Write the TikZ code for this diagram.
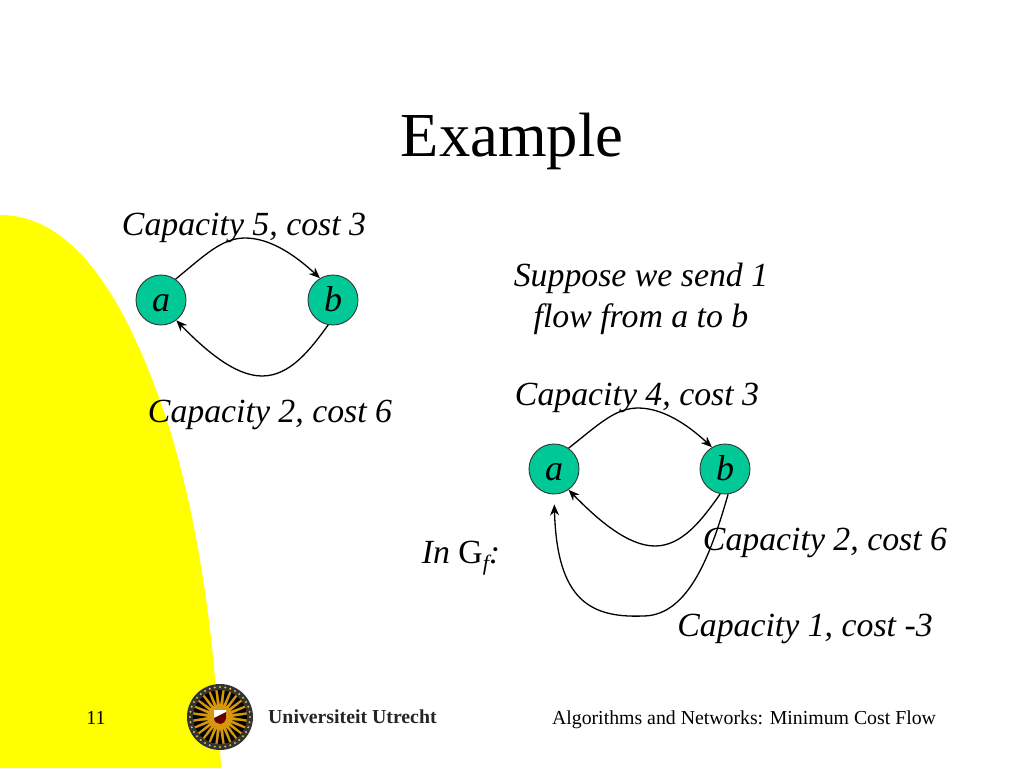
\documentclass[tikz,border=0pt]{standalone}
\usepackage{fontspec}
\setmainfont{Liberation Serif}
\usetikzlibrary{calc,arrows.meta}
\definecolor{flowgreen}{RGB}{0,200,150}
\definecolor{sealgold}{RGB}{214,152,10}
\definecolor{slideyellow}{RGB}{255,255,0}
\tikzset{
  vertex/.style={circle, draw=black!80, fill=flowgreen, line width=0.9pt, minimum size=50pt, inner sep=0pt,
    text height=23pt, text depth=0pt, font=\fontsize{36}{38}\selectfont\itshape},
  flowedge/.style={-{Stealth[length=11pt, width=9pt]}, line width=1.3pt},
  lbl/.style={anchor=base, inner sep=0pt, font=\fontsize{33.8}{36}\selectfont\itshape},
  footer/.style={anchor=base, inner sep=0pt, font=\fontsize{19.8}{24}\selectfont},
}
\begin{document}
\begin{tikzpicture}[x=1pt, y=-1pt]
  \useasboundingbox (0,0) rectangle (1024,768);

  % ---- yellow corner shape ----
  \fill[slideyellow] (0,215) .. controls (70,215) and (125,290) .. (170,430)
    .. controls (200,530) and (215,640) .. (221,768) -- (0,768) -- cycle;

  % ---- title ----
  \node[anchor=base, inner sep=0pt, font=\fontsize{62.6}{70}\selectfont] (title) at (512,156) {Example};

  % ---- first graph ----
  \node[vertex] (a1) at (161,300) {a};
  \node[vertex] (b1) at (333,300) {b};
  \draw[flowedge] (a1.55) .. controls (205,255) and (222,238) .. (245,238)
    .. controls (270,238) and (295,255) .. (b1.121);
  \draw[flowedge] (b1.259) .. controls (310,350) and (290,376) .. (262,376)
    .. controls (235,376) and (205,350) .. (a1.-53);
  \node[lbl] (cap5) at (244,235) {Capacity 5, cost 3};
  \node[lbl] (cap2) at (270,422) {Capacity 2, cost 6};

  % ---- text on the right ----
  \node[lbl] (send1) at (641,286) {Suppose we send 1};
  \node[lbl] (send2) at (641,327) {flow from a to b};

  % ---- residual graph ----
  \node[vertex] (a2) at (554,469) {a};
  \node[vertex] (b2) at (725,469) {b};
  \draw[flowedge] (a2.55) .. controls (598,425) and (615,408) .. (638,408)
    .. controls (663,408) and (688,425) .. (b2.121);
  \draw[flowedge] (b2.259) .. controls (702,520) and (682,546) .. (655,546)
    .. controls (628,546) and (598,520) .. (a2.-55);
  \draw[flowedge, shorten >=10pt] (b2.-83) .. controls (712,550) and (690,616) .. (643,616)
    .. controls (590,618) and (557,600) .. (a2.south);
  \node[lbl] (cap4) at (637,405) {Capacity 4, cost 3};
  \node[lbl] (cap2f) at (825,550) {Capacity 2, cost 6};
  \node[lbl] (cap1) at (805,636) {Capacity 1, cost -3};
  \node[lbl] (gf) at (461,563) {In \textup{G}\raisebox{-0.22em}{\fontsize{22}{24}\selectfont f}:};

  % ---- footer with seal ----
  \node[footer] (pageno) at (96,724) {11};
  \node[footer] (course) at (744,724) {Algorithms and Networks: Minimum Cost Flow};
  \node[circle, fill=black!80, minimum size=66pt, inner sep=0pt] (seal) at (220,717) {};
  \fill[sealgold] (seal) circle (27);
  \foreach \ang in {0,15,...,345} {
    \fill[black] ($(seal)+(\ang-5:27)$) -- ($(seal)+(\ang:12)$) -- ($(seal)+(\ang+5:27)$) -- cycle;
  }
  \foreach \ang in {0,10,...,350} {
    \fill[sealgold!70] ($(seal)+(\ang:30)$) circle (1.1);
  }
  \fill[sealgold] (seal) circle (13);
  % shield in the middle of the seal
  \fill[white] (214,710) -- (226,710) -- (226,718) .. controls (226,722) and (222,724) .. (220,724)
    .. controls (217,724) and (214,722) .. (214,718) -- cycle;
  \fill[black!60!red] (226,712) -- (226,718) .. controls (226,722) and (222,724) .. (220,724)
    .. controls (217,724) and (214,722) .. (214,718) -- cycle;
  \node[anchor=base west, inner sep=0pt, font=\fontsize{19.8}{22}\selectfont\bfseries, text=black!85] (uu) at (268,723) {Universiteit Utrecht};
\end{tikzpicture}
\end{document}
